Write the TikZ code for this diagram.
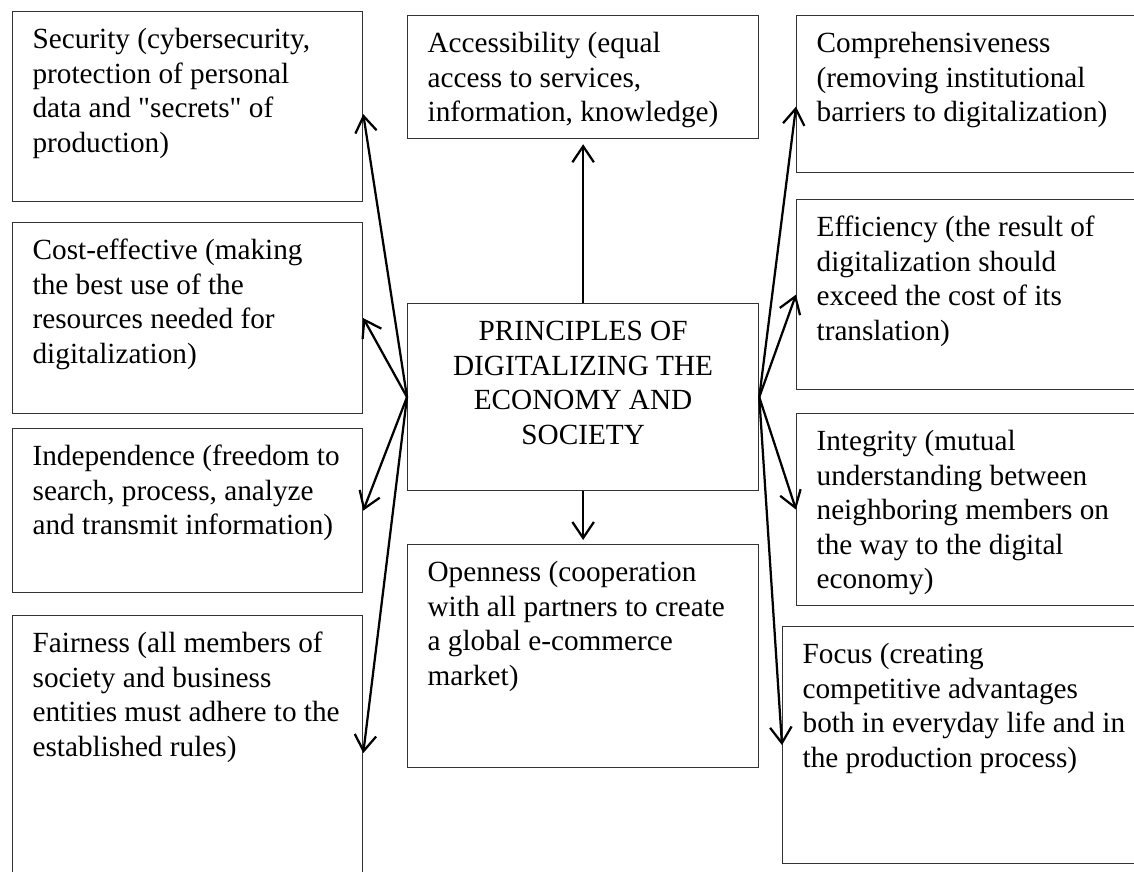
\documentclass[tikz,border=0pt]{standalone}
\usepackage{fontspec}
\setmainfont{Liberation Serif}[Ligatures=TeXOff]
\usetikzlibrary{arrows.meta}

\begin{document}
\begin{tikzpicture}[
                x = 0.4pt, y = -0.4pt,
                box/.style = {draw=black!80, line width=0.5pt, anchor=north west, inner sep=0pt, text height=14.8pt, font=\fontsize{11.7}{13.8}\selectfont},
                item/.style = {box, align=flush left, text width=140pt, execute at begin node={\leftskip=8pt\relax}},
                main/.style = {box, align=flush center, text width=140.4pt},
                arr/.style = {draw, line width=0.9pt, -{Straight Barb[length=6.4pt, width=8.6pt]}},
            ]
            \useasboundingbox (0,0) rectangle (1134,872);
            \clip (0,0) rectangle (1134,872);

            \node (sec) [item, text depth=61.2pt] at (12,11) {Security (cybersecurity,\\protection of personal\\data and "secrets" of\\production)};
            \node (cost) [item, text depth=61.6pt] at (12,222) {Cost-effective (making\\the best use of the\\resources needed for\\digitalization)};
            \node (indep) [item, text depth=50.8pt] at (12,428) {Independence (freedom to\\search, process, analyze\\and transmit information)};
            \node (fair) [item, text depth=95.2pt] at (12,615) {Fairness (all members of\\society and business\\entities must adhere to the\\established rules)};

            \node (acc) [item, text width=140.4pt, text depth=34.4pt] at (407,15) {Accessibility (equal\\access to services,\\information, knowledge)};
            \node (cent) [main, text depth=60pt] at (407,303) {PRINCIPLES OF\\DIGITALIZING THE\\ECONOMY AND\\SOCIETY};
            \node (open) [item, text width=140.4pt, text depth=74.4pt] at (407,544) {Openness (cooperation\\with all partners to create\\a global e-commerce\\market)};

            \node (comp) [item, text width=150pt, text depth=48pt] at (796,15) {Comprehensiveness\\(removing institutional\\barriers to digitalization)};
            \node (eff) [item, text width=150pt, text depth=61.2pt] at (796,199) {Efficiency (the result of\\digitalization should\\exceed the cost of its\\translation)};
            \node (integ) [item, text width=150pt, text depth=62pt] at (796,413) {Integrity (mutual\\understanding between\\neighboring members on\\the way to the digital\\economy)};
            \node (focus) [item, text width=150pt, text depth=80pt] at (782,626) {Focus (creating\\competitive advantages\\both in everyday life and in\\the production process)};

            \path[arr] (cent.west) -- ([yshift=-3pt]sec.east);
            \path[arr] (cent.west) -- (cost.east);
            \path[arr] (cent.west) -- (indep.east);
            \path[arr] (cent.west) -- (fair.east);
            \path[arr, shorten >=2pt] (cent.north) -- (acc.south);
            \path[arr, shorten >=1.6pt] (cent.south) -- (open.north);
            \path[arr] (cent.east) -- ([yshift=-5pt]comp.west);
            \path[arr] (cent.east) -- (eff.west);
            \path[arr] (cent.east) -- (integ.west);
            \path[arr] (cent.east) -- (focus.west);
        \end{tikzpicture}
\end{document}
